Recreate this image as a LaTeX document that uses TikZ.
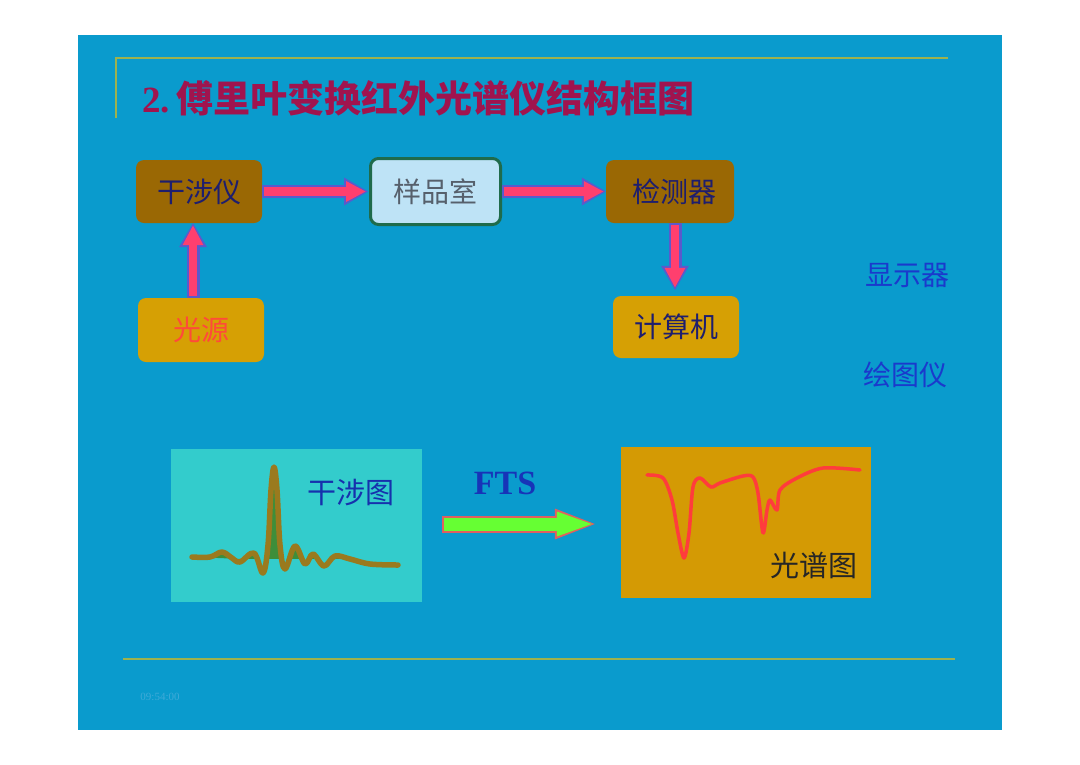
\documentclass[tikz,border=0pt]{standalone}
\usepackage{fontspec}
\setmainfont{Liberation Serif}
\newfontfamily\cjk{Noto Sans CJK SC}
\usetikzlibrary{arrows.meta, positioning}
\definecolor{slideBlue}{HTML}{0A9BCD}
\definecolor{ruleOlive}{HTML}{9EB24E}
\definecolor{titleRed}{HTML}{A0144E}
\definecolor{boxBrown}{HTML}{9A6804}
\definecolor{boxGold}{HTML}{D6A004}
\definecolor{roomBlue}{HTML}{BEE3F6}
\definecolor{roomEdge}{HTML}{1F6B4B}
\definecolor{textNavy}{HTML}{1E1E6E}
\definecolor{textGray}{HTML}{56606C}
\definecolor{textOrange}{HTML}{FF4A3A}
\definecolor{labelBlue}{HTML}{1A3ACC}
\definecolor{arrowPink}{HTML}{FF3F6E}
\definecolor{arrowEdge}{HTML}{5A5ACC}
\definecolor{ftsGreen}{HTML}{66FF33}
\definecolor{ftsEdge}{HTML}{E06060}
\definecolor{ifgCyan}{HTML}{33CCCC}
\definecolor{ifgBrown}{HTML}{9A7A1E}
\definecolor{ifgGreen}{HTML}{3E8E3A}
\definecolor{specGold}{HTML}{D49A04}
\definecolor{specRed}{HTML}{FF3C3C}
\definecolor{stampBlue}{HTML}{3FAAD8}

\tikzset{
  unitbox/.style={rounded corners=8pt, minimum width=126pt, minimum height=63pt,
    inner sep=0pt, font=\cjk\fontsize{28}{30}\selectfont},
  brownbox/.style={unitbox, fill=boxBrown, text=textNavy},
  goldbox/.style={unitbox, fill=boxGold, text=textNavy},
  flowedge/.style={arrowEdge, line width=13pt, -{Triangle[length=24pt, width=28pt, line width=0pt]}},
  flowfill/.style={arrowPink, line width=8.5pt, shorten >=2.5pt, shorten <=2pt,
    -{Triangle[length=19.5pt, width=21pt, line width=0pt]}},
  sidelabel/.style={inner sep=0pt, text=labelBlue, font=\cjk\fontsize{28}{30}\selectfont},
  plotlabel/.style={inner sep=0pt, font=\cjk\fontsize{29}{31}\selectfont}
}

\begin{document}
\begin{tikzpicture}[x=1pt, y=-1pt]
  \useasboundingbox (0,0) rectangle (1080,764);
  \fill[white] (0,0) rectangle (1080,764);
  \fill[slideBlue] (78,35) rectangle (1002,730);

  % rules
  \draw[ruleOlive, line width=2pt] (116,118) -- (116,58) -- (948,58);
  \draw[ruleOlive, line width=2pt] (123,659) -- (955,659);

  \node[anchor=west, inner sep=0pt, text=titleRed] (title) at (142,98)
    {\fontsize{37}{40}\selectfont\bfseries 2.\,{\cjk 傅里叶变换红外光谱仪结构框图}};

  % block diagram
  \node[brownbox] (gsy) at (199,191.5) {干涉仪};
  \node[rounded corners=8pt, fill=roomBlue, draw=roomEdge, line width=3pt,
        minimum width=130pt, minimum height=66pt, text=textGray,
        font=\cjk\fontsize{28}{30}\selectfont] (ypl) at (435.5,191.5) {样品室};
  \node[brownbox, minimum width=128pt] (det) at (670,191.5) {\hspace{8pt}检测器};
  \node[goldbox, text=textOrange, minimum height=64pt] (src) at (201,330) {光源};
  \node[goldbox, minimum height=62pt] (cmp) at (676,327) {计算机};

  \node[sidelabel] (disp) at (907,275) {显示器};
  \node[sidelabel] (plot) at (905,375) {绘图仪};

  \coordinate (up) at ([xshift=-8pt]src.north);
  \coordinate (down) at ([xshift=5pt]det.south);

  \draw[flowedge] (gsy.east) -- ([xshift=-1pt]ypl.west);
  \draw[flowfill] (gsy.east) -- ([xshift=-1pt]ypl.west);
  \draw[flowedge] (ypl.east) -- (det.west);
  \draw[flowfill] (ypl.east) -- (det.west);
  \draw[flowedge] (up) -- (up |- gsy.south);
  \draw[flowfill] (up) -- (up |- gsy.south);
  \draw[flowedge, shorten >=6pt] (down) -- (down |- cmp.north);
  \draw[flowfill, shorten >=8.5pt] (down) -- (down |- cmp.north);

  % interferogram and spectrum
  \node[fill=ifgCyan, minimum width=251pt, minimum height=153pt, inner sep=0pt] (ifg) at (296,525.5) {};
  \begin{scope}
    \clip (170,449) rectangle (420,558);
    \fill[ifgGreen] plot[smooth, tension=0.6] coordinates {(192,557) (210,557) (222,552) (232,558)
      (240,562) (254,553) (263,573) (268,545) (271,490) (274,467) (277,490) (280,545) (285,569)
      (295,546) (305,564) (313,554) (324,566) (335,556) (350,559) (370,564) (398,565)} -- cycle;
  \end{scope}
  \draw[ifgBrown, line width=5.5pt, line cap=round, line join=round] plot[smooth, tension=0.6]
    coordinates {(192,557) (210,557) (222,552) (232,558) (240,562) (254,553) (263,573) (268,545)
      (271,490) (274,467) (277,490) (280,545) (285,569) (295,546) (305,564) (313,554) (324,566)
      (335,556) (350,559) (370,564) (398,565)};
  \node[plotlabel, text=labelBlue!85!black] (ifglabel) at (351,493) {干涉图};

  \node[fill=specGold, minimum width=250pt, minimum height=151pt, inner sep=0pt] (spc) at (746,522.5) {};
  \draw[specRed, line width=3.5pt, line cap=round, line join=round] plot[smooth, tension=0.5]
    coordinates {(647,475) (663,478) (672,500) (678,533) (684,558) (689,533) (693,487) (700,478)
      (711,487) (720,483) (743,476) (753,477) (758,493) (763,533) (767,510) (770,500) (777,510)
      (780,490) (797,478) (823,468) (860,470)};
  \node[plotlabel, text=black!85] (spclabel) at (814,565) {光谱图};

  \node[inner sep=0pt, text=labelBlue!90!black, font=\fontsize{34}{36}\selectfont\bfseries] (fts) at (505,483) {FTS};
  \draw[ftsEdge, line width=17pt, -{Triangle[length=40pt, width=31pt, line width=0pt]}]
    ([xshift=20pt, yshift=1.5pt]ifg.east) -- ([xshift=-26pt, yshift=-1.5pt]spc.west);
  \draw[ftsGreen, line width=13pt, shorten >=3pt, shorten <=2pt,
    -{Triangle[length=35pt, width=25pt, line width=0pt]}]
    ([xshift=20pt, yshift=1.5pt]ifg.east) -- ([xshift=-26pt, yshift=-1.5pt]spc.west);

  \node[inner sep=0pt, text=stampBlue, font=\fontsize{11}{12}\selectfont] (stamp) at (160,697) {09:54:00};
\end{tikzpicture}
\end{document}
